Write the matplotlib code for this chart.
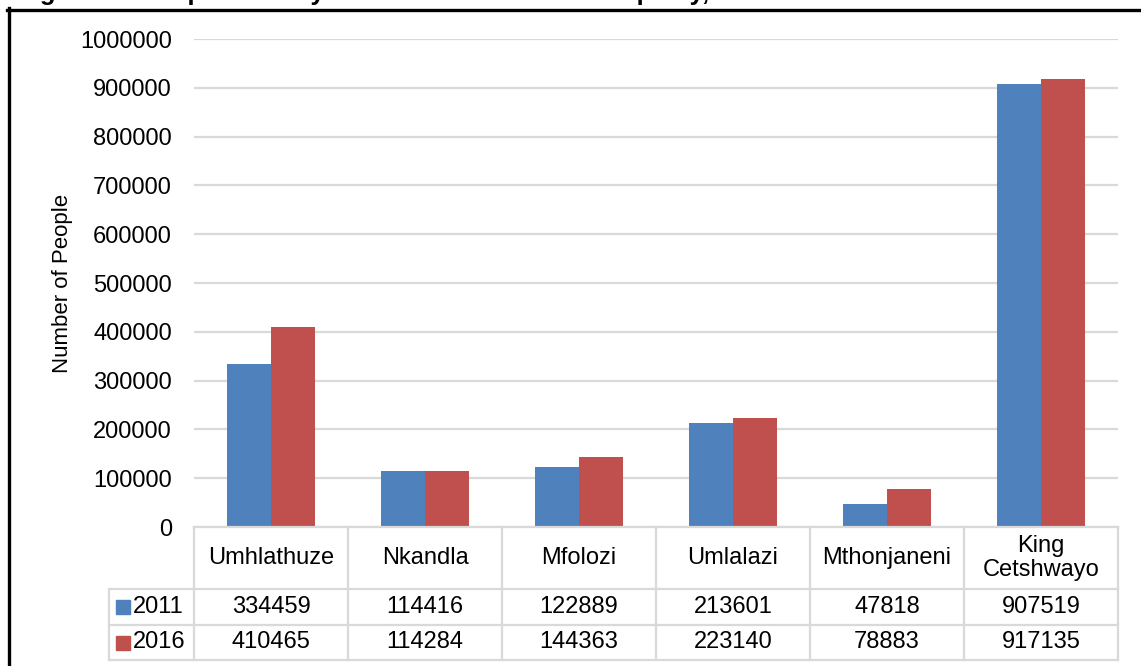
import matplotlib
matplotlib.use("Agg")
import matplotlib.pyplot as plt
from matplotlib.lines import Line2D

plt.rcParams['font.family'] = ['Liberation Sans', 'DejaVu Sans']

# Population per municipality, census 2011 vs community survey 2016
municipalities = ["Umhlathuze", "Nkandla", "Mfolozi", "Umlalazi", "Mthonjaneni", "King\nCetshwayo"]
years = ["2011", "2016"]
pop_2011 = [334459, 114416, 122889, 213601, 47818, 907519]
pop_2016 = [410465, 114284, 144363, 223140, 78883, 917135]
yticks = [0, 100000, 200000, 300000, 400000, 500000, 600000, 700000, 800000, 900000, 1000000]

BLUE = "#4F81BD"
RED = "#C0504D"
GRID = "#D9D9D9"

W, H = 1141, 666
fig = plt.figure(figsize=(W / 100, H / 100), dpi=100)

# plot area in pixels: x 194..1118, y 39..527
ax = fig.add_axes([194 / W, 1 - 527 / H, (1118 - 194) / W, (527 - 39) / H])

n = len(municipalities)
x = list(range(n))
bw = 0.286
ax.bar([i - bw / 2 for i in x], pop_2011, width=bw, color=BLUE, zorder=3)
ax.bar([i + bw / 2 for i in x], pop_2016, width=bw, color=RED, zorder=3)

ax.set_xlim(-0.5, n - 0.5)
ax.set_ylim(0, 1000000)
ax.set_yticks(yticks)
ax.set_yticklabels([str(v) for v in yticks], fontsize=17)
ax.set_xticks([])
ax.tick_params(axis='y', length=0, pad=16)
ax.yaxis.grid(True, color=GRID, linewidth=1.6, zorder=0)
for s in ax.spines.values():
    s.set_visible(False)
ax.set_ylabel("Number of People", fontsize=16, labelpad=5)

# data table under the axis (x in data units, y in axes units)
tr = ax.get_xaxis_transform()
px = 488.0  # axes height in pixels
def ya(ypix):
    return (527 - ypix) / px

unit = 924.0 / n
x_leg = -0.5 - (194 - 109) / unit
y_top, y_hdr, y_r1, y_r2 = ya(527), ya(589), ya(625), ya(660)

line_kw = dict(color=GRID, linewidth=1.6, transform=tr, clip_on=False, zorder=4)
ax.plot([-0.5, n - 0.5], [y_top, y_top], **line_kw)
for yy in (y_hdr, y_r1, y_r2):
    ax.plot([x_leg, n - 0.5], [yy, yy], **line_kw)
for b in range(n + 1):
    ax.plot([b - 0.5, b - 0.5], [y_top, y_r2], **line_kw)
ax.plot([x_leg, x_leg], [y_hdr, y_r2], **line_kw)

for i, name in enumerate(municipalities):
    ax.text(i, (y_top + y_hdr) / 2, name, transform=tr, ha='center', va='center',
            fontsize=17, linespacing=1.1)
    ax.text(i, (y_hdr + y_r1) / 2, str(pop_2011[i]), transform=tr,
            ha='center', va='center', fontsize=17)
    ax.text(i, (y_r1 + y_r2) / 2, str(pop_2016[i]), transform=tr,
            ha='center', va='center', fontsize=17)

# legend keys inside the first table column
for yr, col, (ya0, ya1) in zip(years, [BLUE, RED], [(y_hdr, y_r1), (y_r1, y_r2)]):
    ym = (ya0 + ya1) / 2
    ax.plot([-0.5 - (194 - 122.5) / unit], [ym], marker='s', markersize=9.5,
            color=col, transform=tr, clip_on=False, linestyle='none')
    ax.text(-0.5 - (194 - 133) / unit, ym, yr, transform=tr, ha='left',
            va='center', fontsize=17)

# outer frame (left and top edges)
fig.add_artist(Line2D([8.5 / W, 8.5 / W], [0, 1 - 8 / H], color='black',
                      linewidth=2.4, transform=fig.transFigure))
fig.add_artist(Line2D([7 / W, 1], [1 - 9.5 / H, 1 - 9.5 / H], color='black',
                      linewidth=2.4, transform=fig.transFigure))

# figure caption sits above the frame
fig.text(17 / W, 1.0, "Figure 3.1: Population by Local and District Municipality, 2011 and 2016",
         fontsize=18.5, fontweight='bold', ha='left', va='baseline')

fig.savefig("out.png", dpi=100)
